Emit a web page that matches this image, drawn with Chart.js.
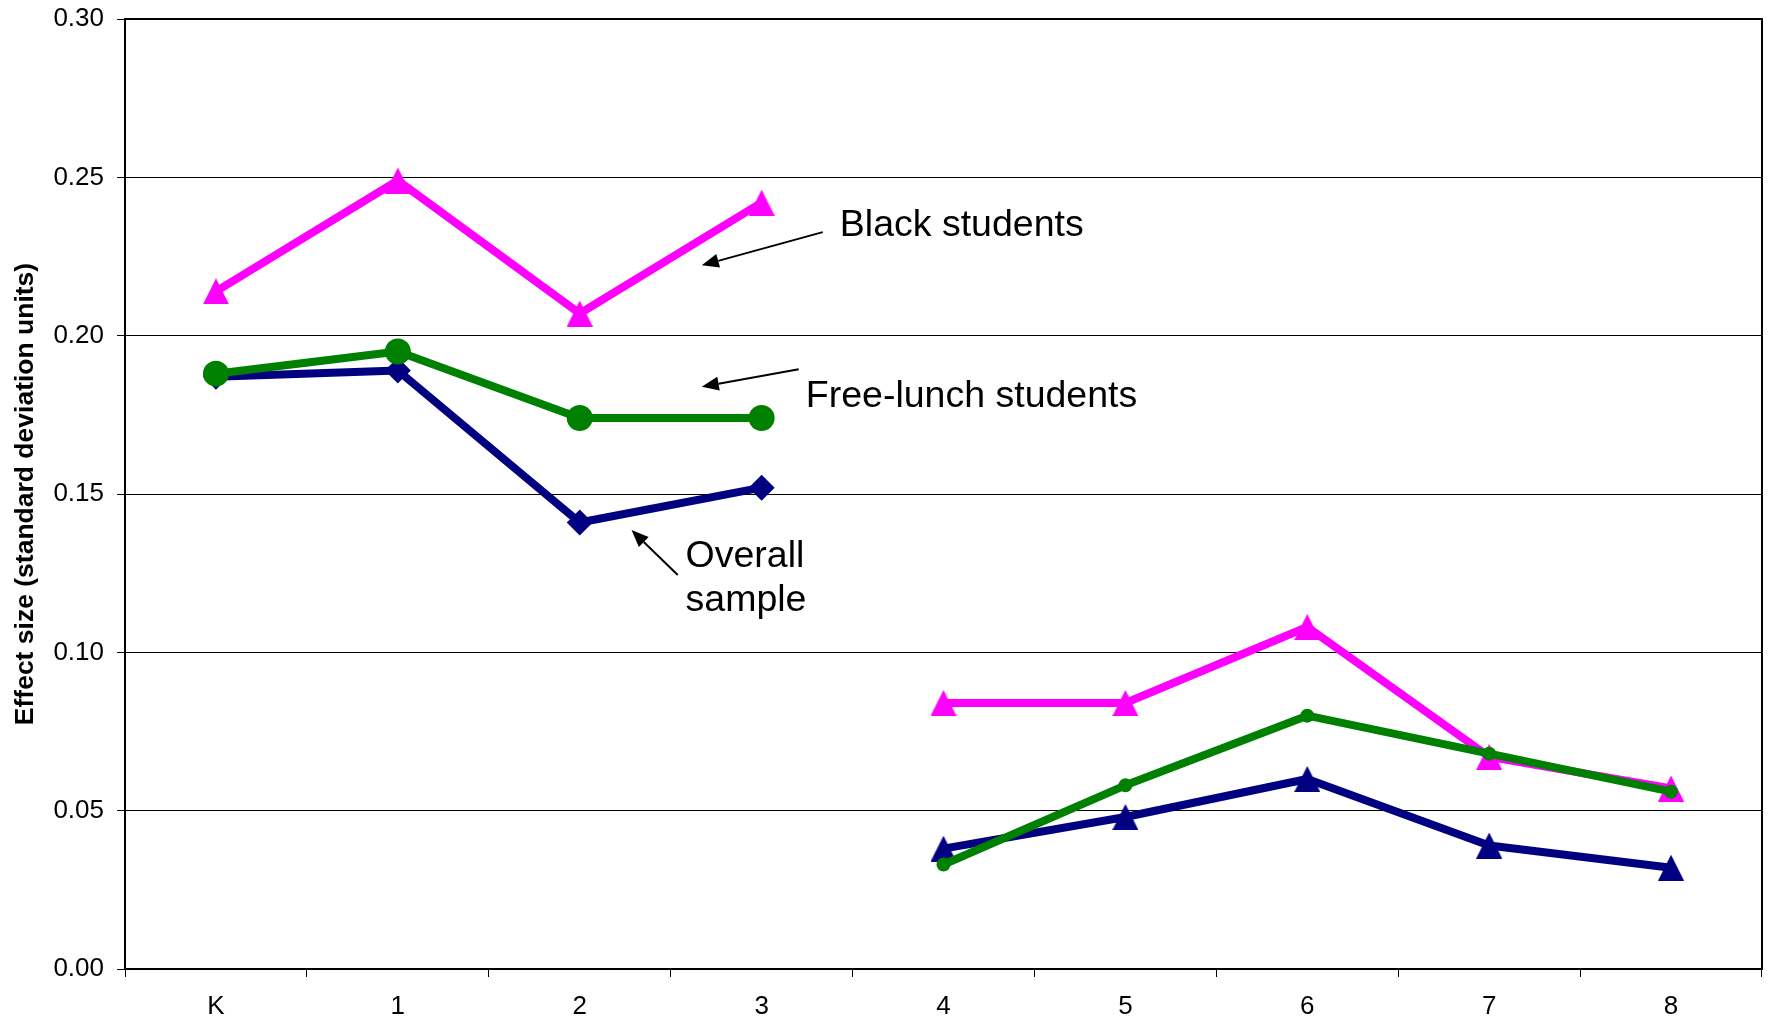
<!DOCTYPE html>
<html>
<head>
<meta charset="utf-8">
<script src="https://cdn.jsdelivr.net/npm/chart.js@4.4.1/dist/chart.umd.min.js"></script>
<style>
html,body{margin:0;padding:0;background:#fff}
#wrap{width:1769px;height:1023px;position:relative}
</style>
</head>
<body>
<div id="wrap"><canvas id="c"></canvas></div>
<script>
// ---- data ----
const categories = ['K', '1', '2', '3', '4', '5', '6', '7', '8'];
const yTickValues = [0.00, 0.05, 0.10, 0.15, 0.20, 0.25, 0.30];
const yAxisTitle = 'Effect size (standard deviation units)';

// Grades K-3 and 4-8 are separate segments
const blackK3 = [0.214, 0.249, 0.207, 0.242];
const black48 = [0.084, 0.084, 0.108, 0.067, 0.057];
const freeLunchK3 = [0.188, 0.195, 0.174, 0.174];
const freeLunch48 = [0.033, 0.058, 0.080, 0.068, 0.056];
const overallK3 = [0.187, 0.189, 0.141, 0.152];
const overall48 = [0.038, 0.048, 0.060, 0.039, 0.032];

const labelBlack = 'Black students';
const labelFree = 'Free-lunch students';
const labelOverall = ['Overall', 'sample'];

// ---- helpers ----
const FONT = "'Liberation Sans', Arial, sans-serif";
const early = a => a.concat(new Array(categories.length - a.length).fill(null));
const late = a => new Array(categories.length - a.length).fill(null).concat(a);

function triangleStyle(color, w, h) {
  const cv = document.createElement('canvas');
  cv.width = w; cv.height = h;
  const g = cv.getContext('2d');
  g.fillStyle = color;
  g.beginPath();
  g.moveTo(w / 2, 0);
  g.lineTo(w, h);
  g.lineTo(0, h);
  g.closePath();
  g.fill();
  return cv;
}

const MAGENTA = '#FF00FF', GREEN = '#008000', NAVY = '#000080';
const triMag = triangleStyle(MAGENTA, 26, 26);
const triNavy = triangleStyle(NAVY, 26, 26);

function ds(label, data, color, style, radius, order) {
  return {
    label, data, order,
    borderColor: color,
    backgroundColor: color,
    borderWidth: 8,
    borderJoinStyle: 'round',
    borderCapStyle: 'round',
    pointStyle: style,
    pointRadius: radius,
    pointBorderWidth: 0,
    pointBackgroundColor: color,
    pointHoverRadius: radius,
    spanGaps: false,
    tension: 0
  };
}

// annotations in data units: x as category index, y as value
const annotations = {
  texts: [
    {text: labelBlack, x: 3.43, y: 0.2315},
    {text: labelFree, x: 3.243, y: 0.1775},
    {text: labelOverall[0], x: 2.582, y: 0.1269},
    {text: labelOverall[1], x: 2.582, y: 0.1131}
  ],
  arrows: [
    {x1: 3.336, y1: 0.2327, x2: 2.671, y2: 0.2222},
    {x1: 3.204, y1: 0.1894, x2: 2.671, y2: 0.1839},
    {x1: 2.539, y1: 0.1244, x2: 2.285, y2: 0.1386}
  ]
};

const framePlugin = {
  id: 'frame',
  afterDraw(chart) {
    const {ctx, chartArea: a, scales} = chart;
    ctx.save();
    ctx.strokeStyle = '#000';
    ctx.lineWidth = 2;
    ctx.strokeRect(a.left, a.top, a.right - a.left, a.bottom - a.top);

    const px = v => scales.x.getPixelForValue(v);
    const py = v => scales.y.getPixelForValue(v);
    ctx.fillStyle = '#000';
    ctx.font = '37.5px ' + FONT;
    ctx.textAlign = 'left';
    ctx.textBaseline = 'alphabetic';
    annotations.texts.forEach(t => ctx.fillText(t.text, px(t.x), py(t.y)));

    annotations.arrows.forEach(ar => {
      const x1 = px(ar.x1), y1 = py(ar.y1), x2 = px(ar.x2), y2 = py(ar.y2);
      const ang = Math.atan2(y2 - y1, x2 - x1);
      const L = 17, W = 7;
      const bx = x2 - Math.cos(ang) * L, by = y2 - Math.sin(ang) * L;
      ctx.lineWidth = 2;
      ctx.beginPath();
      ctx.moveTo(x1, y1);
      ctx.lineTo(bx, by);
      ctx.stroke();
      ctx.beginPath();
      ctx.moveTo(x2, y2);
      ctx.lineTo(bx + Math.sin(ang) * W, by - Math.cos(ang) * W);
      ctx.lineTo(bx - Math.sin(ang) * W, by + Math.cos(ang) * W);
      ctx.closePath();
      ctx.fill();
    });
    ctx.restore();
  }
};

new Chart(document.getElementById('c'), {
  type: 'line',
  data: {
    labels: categories,
    datasets: [
      ds('Free-lunch K-3', early(freeLunchK3), GREEN, 'circle', 13, 0),
      ds('Free-lunch 4-8', late(freeLunch48), GREEN, 'circle', 7, 0),
      ds('Overall K-3', early(overallK3), NAVY, 'rectRot', 13, 1),
      ds('Overall 4-8', late(overall48), NAVY, triNavy, 13, 1),
      ds('Black K-3', early(blackK3), MAGENTA, triMag, 13, 2),
      ds('Black 4-8', late(black48), MAGENTA, triMag, 13, 2)
    ]
  },
  options: {
    responsive: true,
    maintainAspectRatio: false,
    animation: false,
    events: [],
    layout: {autoPadding: false, padding: {top: 19, right: 7, bottom: 0, left: 0}},
    plugins: {legend: {display: false}, tooltip: {enabled: false}},
    scales: {
      x: {
        type: 'category',
        offset: true,
        afterFit(s) { s.height = 54; s.paddingLeft = 0; s.paddingRight = 0; },
        grid: {
          offset: true,
          drawOnChartArea: false,
          drawTicks: true,
          tickLength: 8,
          tickColor: '#000',
          tickWidth: 1
        },
        border: {display: true, color: '#000', width: 2},
        ticks: {
          color: '#000',
          font: {family: FONT, size: 26},
          padding: 14,
          maxRotation: 0,
          autoSkip: false
        }
      },
      y: {
        min: 0,
        max: 0.3,
        afterFit(s) { s.width = 125; s.paddingTop = 0; s.paddingBottom = 0; },
        afterBuildTicks(s) { s.ticks = yTickValues.map(v => ({value: v})); },
        grid: {
          color: '#000',
          lineWidth: 1,
          drawTicks: true,
          tickLength: 8,
          tickColor: '#000'
        },
        border: {display: true, color: '#000', width: 2},
        ticks: {
          color: '#000',
          font: {family: FONT, size: 26},
          padding: 13,
          callback: v => Number(v).toFixed(2)
        },
        title: {
          display: true,
          text: yAxisTitle,
          color: '#000',
          font: {family: FONT, size: 26.5, weight: 'bold'},
          padding: {top: 10, bottom: 0}
        }
      }
    }
  },
  plugins: [framePlugin]
});
</script>
</body>
</html>
